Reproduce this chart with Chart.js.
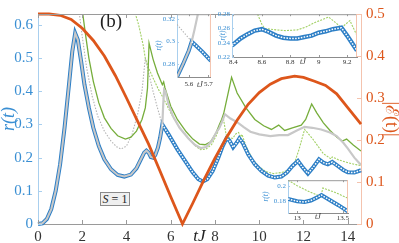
<!DOCTYPE html>
<html>
<head>
<meta charset="utf-8">
<script src="https://cdn.jsdelivr.net/npm/chart.js@4.4.1/dist/chart.umd.min.js"></script>
<style>
  body { margin: 0; background: #fff; }
  #wrap { position: relative; width: 399px; height: 243px; font-family: "Liberation Serif", "DejaVu Serif", serif; color: #222; }
  canvas { position: absolute; }
  .note { position: absolute; white-space: nowrap; line-height: 1; }
  .tj { font-style: italic; font-size: 8px; transform: translate(-50%, -50%); color: #333; }
</style>
</head>
<body>
<div id="wrap">
  <canvas id="main" width="399" height="243" style="left:0;top:0"></canvas>
  <canvas id="in1" width="66" height="88" style="left:150px;top:8px"></canvas>
  <canvas id="in2" width="155" height="70" style="left:205px;top:8px"></canvas>
  <canvas id="in3" width="96" height="56" style="left:255px;top:174px"></canvas>
  <div class="note" style="left:100px;top:11px;font-size:19px">(b)</div>
  <div class="note" style="left:100px;top:192px;width:28px;height:12px;border:1px solid #8a8a8a;background:#efefef;font-size:12px;text-align:center;line-height:12px"><i>S</i> = 1</div>
  <div class="note tj" style="left:200px;top:85px">tJ</div>
  <div class="note tj" style="left:303px;top:62px">tJ</div>
  <div class="note tj" style="left:318px;top:217px">tJ</div>
</div>
<script>
// main axis ticks
const xTicks = [0, 2, 4, 6, 8, 10, 12, 14];
const rTicks = [0, 0.1, 0.2, 0.3, 0.4, 0.5, 0.6];
const eTicks = [0, 0.1, 0.2, 0.3, 0.4, 0.5];

// |E(t)|, right axis
const tE = [0, 0.5, 1, 1.5, 2, 2.5, 3, 3.5, 4, 4.5, 5, 5.5, 6, 6.53, 7, 7.5, 8, 8.5, 9, 9.5, 10, 10.5, 11, 11.6, 12, 12.5, 13, 13.5, 14, 14.6];
const E  = [0.5, 0.5, 0.497, 0.487, 0.466, 0.437, 0.40, 0.353, 0.30, 0.245, 0.19, 0.128, 0.065, 0, 0.05, 0.105, 0.157, 0.204, 0.247, 0.285, 0.313, 0.333, 0.346, 0.352, 0.349, 0.34, 0.33, 0.31, 0.277, 0.238];

// r(t) blue
const tB = [0, 0.2, 0.4, 0.6, 0.8, 1.0, 1.2, 1.4, 1.55, 1.68, 1.8, 1.95, 2.1, 2.3, 2.5, 2.75, 3.0, 3.3, 3.6, 3.9, 4.2, 4.45, 4.65, 4.8, 4.9, 5.0, 5.1, 5.2, 5.3, 5.42, 5.52, 5.62,
            5.9, 6.3, 6.7, 7.0, 7.25, 7.45, 7.65, 7.9, 8.15, 8.35, 8.52, 8.65, 8.82, 8.98, 9.1, 9.25, 9.5, 9.8, 10.1, 10.4, 10.7, 11.0, 11.25, 11.5, 11.75, 11.95, 12.2, 12.45, 12.7, 12.9, 13.1, 13.3, 13.55, 13.8, 14.0, 14.3, 14.6];
const rB = [0, 0.002, 0.015, 0.045, 0.10, 0.18, 0.29, 0.42, 0.52, 0.575, 0.555, 0.49, 0.42, 0.35, 0.29, 0.235, 0.195, 0.165, 0.148, 0.143, 0.149, 0.168, 0.195, 0.215, 0.221, 0.215, 0.202, 0.2, 0.208, 0.23, 0.26, 0.30,
            0.27, 0.225, 0.185, 0.155, 0.135, 0.128, 0.135, 0.16, 0.2, 0.235, 0.258, 0.252, 0.231, 0.245, 0.258, 0.245, 0.21, 0.18, 0.16, 0.146, 0.14, 0.143, 0.155, 0.175, 0.19, 0.172, 0.152, 0.172, 0.195, 0.185, 0.18, 0.187, 0.175, 0.163, 0.156, 0.155, 0.162];
const split = 5.62;

// gray solid branch
const tS = [5.62, 5.66, 5.7, 5.76, 5.9, 6.1, 6.4, 6.8, 7.1, 7.35, 7.6, 7.85, 8.05, 8.2, 8.3, 8.45, 8.7, 9.0, 9.3, 9.6, 10.0, 10.5, 10.9, 11.3, 11.7, 12.05, 12.4, 12.8, 13.2, 13.5, 13.8, 14.0, 14.3, 14.6];
const rS = [0.30, 0.36, 0.405, 0.40, 0.36, 0.325, 0.29, 0.258, 0.238, 0.229, 0.232, 0.25, 0.275, 0.29, 0.305, 0.331, 0.318, 0.307, 0.292, 0.278, 0.27, 0.265, 0.268, 0.268, 0.282, 0.293, 0.29, 0.285, 0.276, 0.265, 0.245, 0.228, 0.2, 0.178];

// green solid
const tG = [2.0, 2.15, 2.3, 2.5, 2.75, 3.0, 3.3, 3.6, 3.95, 4.2, 4.45, 4.7, 4.85, 4.95, 5.02, 5.2, 5.4, 5.62, 5.68, 5.74, 6.0, 6.3, 6.7, 7.0, 7.3, 7.55, 7.8, 8.05, 8.2, 8.3, 8.4, 8.75, 9.0, 9.4, 9.8, 10.2, 10.55, 10.88, 11.15, 11.5, 11.9, 12.1, 12.37, 12.6, 12.9, 13.2, 13.5, 13.75, 13.95, 14.25, 14.6];
const rG = [0.645, 0.57, 0.50, 0.43, 0.365, 0.32, 0.288, 0.266, 0.256, 0.262, 0.28, 0.315, 0.35, 0.41, 0.545, 0.497, 0.455, 0.42, 0.428, 0.41, 0.355, 0.315, 0.278, 0.256, 0.241, 0.239, 0.248, 0.275, 0.3, 0.315, 0.335, 0.442, 0.395, 0.35, 0.315, 0.296, 0.285, 0.298, 0.282, 0.29, 0.298, 0.315, 0.362, 0.335, 0.305, 0.282, 0.262, 0.25, 0.256, 0.238, 0.22];

// green dotted
const tD = [4.35, 4.55, 4.75, 4.85, 5.0, 5.2, 5.45, 5.66, 6.0, 6.4, 6.86, 7.1, 7.35, 7.6, 7.85, 8.05, 8.2, 8.37, 8.5, 8.6, 8.8, 8.95, 9.07, 9.15, 9.22, 9.4, 9.7, 10.0, 10.3, 10.64, 11.0, 11.3, 11.55, 11.8, 12.05, 12.4, 12.9, 13.25, 13.3, 13.6, 13.95, 14.3, 14.6];
const rD = [0.645, 0.60, 0.54, 0.50, 0.47, 0.44, 0.405, 0.38, 0.335, 0.29, 0.255, 0.236, 0.224, 0.226, 0.24, 0.265, 0.29, 0.322, 0.27, 0.262, 0.258, 0.272, 0.276, 0.262, 0.27, 0.235, 0.195, 0.172, 0.158, 0.152, 0.155, 0.162, 0.175, 0.225, 0.285, 0.258, 0.212, 0.196, 0.202, 0.193, 0.186, 0.18, 0.176];

// gray dotted
const tP = [1.85, 2.0, 2.2, 2.45, 2.7, 3.0, 3.3, 3.55, 3.75, 4.0, 4.25, 4.5, 4.7, 4.85, 4.95, 5.2, 5.4, 5.55, 5.62];
const rP = [0.645, 0.565, 0.47, 0.385, 0.325, 0.28, 0.25, 0.233, 0.226, 0.235, 0.27, 0.33, 0.4, 0.50, 0.47, 0.40, 0.35, 0.315, 0.30];

// inset 1
const i1xTicks = [5.6, 5.7];
const i1yTicks = [0.28, 0.3, 0.32];
const i1tB = [5.54, 5.57, 5.6, 5.615, 5.64, 5.67, 5.713];
const i1rB = [0.269, 0.28, 0.292, 0.30, 0.296, 0.291, 0.283];
const i1split = 5.615;
const i1tS = [5.615, 5.63, 5.65];
const i1rS = [0.30, 0.311, 0.327];
const i1tP = [5.54, 5.615];
const i1rP = [0.315, 0.30];

// inset 2
const i2xTicks = [8.4, 8.6, 8.8, 9, 9.2];
const i2yTicks = [0.22, 0.24, 0.26, 0.28];
const i2tB = [8.39, 8.45, 8.5, 8.55, 8.6, 8.65, 8.7, 8.75, 8.8, 8.85, 8.9, 8.95, 9.0, 9.05, 9.1, 9.16, 9.2, 9.27];
const i2rB = [0.236, 0.246, 0.252, 0.257, 0.259, 0.255, 0.25, 0.247, 0.246, 0.246, 0.248, 0.25, 0.254, 0.256, 0.259, 0.261, 0.25, 0.229];
const i2tD = [8.57, 8.6, 8.62, 8.7, 8.77, 8.85, 8.91, 8.97, 9.07, 9.12, 9.16, 9.22, 9.27];
const i2rD = [0.28, 0.266, 0.26, 0.258, 0.257, 0.258, 0.262, 0.268, 0.276, 0.268, 0.261, 0.271, 0.25];

// inset 3
const i3xTicks = [13, 13.5];
const i3yTicks = [0.18, 0.2];
const i3tB = [12.9, 13.0, 13.08, 13.15, 13.22, 13.265, 13.35, 13.45, 13.555];
const i3rB = [0.183, 0.180, 0.179, 0.181, 0.185, 0.188, 0.182, 0.175, 0.167];
const i3tD = [12.9, 13.0, 13.1, 13.2, 13.26, 13.28, 13.4, 13.555];
const i3rD = [0.207, 0.2, 0.194, 0.189, 0.186, 0.197, 0.192, 0.184];

const FONT = "'Liberation Serif', 'DejaVu Serif', serif";
const BLUE = '#2d7fc6', BLUE_T = '#3a8fd3', ORANGE = '#dd561b', GREEN = '#76ad3b', LGREEN = '#a2d065',
      GRAY = '#c8c8c8', DGRAY = '#b4b4b4';
Chart.defaults.font.family = FONT;

const pts = (t, v) => t.map((x, i) => ({ x: x, y: v[i] }));
const line = (data, color, width, extra) => Object.assign({
    data: data, borderColor: color, borderWidth: width, pointRadius: 0, tension: 0, fill: false
}, extra || {});

// blue drawn as a thick line; gray core before the split, white dashes (markers look) after it
function blueSets(t, r, s, w) {
    const all = pts(t, r);
    return [
        line(all.filter(p => p.x >= s), '#ffffff', 1.5, { borderDash: [1.6, 1.3], order: 1 }),
        line(all.filter(p => p.x <= s), GRAY, 2, { order: 2 }),
        line(all, BLUE, w, { order: 4 }),
    ];
}

const frame = {
    id: 'frame',
    beforeDraw(chart) {
        const { ctx, chartArea: a } = chart;
        ctx.save();
        ctx.fillStyle = '#fff';
        ctx.fillRect(a.left, a.top, a.right - a.left, a.bottom - a.top);
        ctx.restore();
    },
    afterDraw(chart) {
        const { ctx, chartArea: a, scales } = chart;
        const tick = chart.options.plugins.frame.tick;
        ctx.save();
        ctx.lineWidth = 1;
        ctx.strokeStyle = '#9a9a9a';
        ctx.beginPath();
        ctx.moveTo(a.left, a.top + 0.5); ctx.lineTo(a.right, a.top + 0.5);
        scales.x.ticks.forEach(t => {
            const x = Math.round(scales.x.getPixelForValue(t.value)) + 0.5;
            ctx.moveTo(x, a.bottom); ctx.lineTo(x, a.bottom - tick);
            ctx.moveTo(x, a.top); ctx.lineTo(x, a.top + tick);
        });
        ctx.stroke();
        ctx.strokeStyle = '#a9cfee';
        ctx.beginPath();
        scales.y.ticks.forEach(t => {
            const y = Math.round(scales.y.getPixelForValue(t.value)) + 0.5;
            ctx.moveTo(a.left, y); ctx.lineTo(a.left + tick, y);
        });
        ctx.stroke();
        ctx.strokeStyle = '#f4c3ae';
        ctx.beginPath();
        const r = scales.y2 || scales.y;
        if (scales.y2) {
            scales.y2.ticks.forEach(t => {
                const y = Math.round(scales.y2.getPixelForValue(t.value)) + 0.5;
                ctx.moveTo(a.right, y); ctx.lineTo(a.right - tick, y);
            });
        } else {
            ctx.moveTo(a.right - 0.5, a.top); ctx.lineTo(a.right - 0.5, a.bottom);
        }
        ctx.stroke();
        ctx.restore();
    }
};

const setTicks = list => s => { s.ticks = list.map(v => ({ value: v })); };

new Chart(document.getElementById('main'), {
    type: 'line',
    data: {
        datasets: [
            line(pts(tE, E), ORANGE, 2.8, { yAxisID: 'y2', order: 0, clip: 4 }),
            ...blueSets(tB, rB, split, 4).map(d => Object.assign(d, { clip: 4 })),
            line(pts(tS, rS), GRAY, 2.2, { order: 3 }),
            line(pts(tG, rG), GREEN, 1.3, { order: 5 }),
            line(pts(tD, rD), LGREEN, 1.1, { order: 6, borderDash: [2, 1.2] }),
            line(pts(tP, rP), DGRAY, 1.1, { order: 7, borderDash: [1.5, 1.5] }),
        ]
    },
    options: {
        responsive: false, animation: false, devicePixelRatio: 1,
        layout: { padding: { top: 6, left: 0, right: 0, bottom: 0 } },
        plugins: { legend: { display: false }, tooltip: { enabled: false }, frame: { tick: 4 } },
        scales: {
            x: {
                type: 'linear', min: 0, max: 14.6,
                afterBuildTicks: setTicks(xTicks),
                afterFit: s => { s.height = 19; },
                grid: { display: false, drawTicks: false },
                border: { color: '#9a9a9a' },
                ticks: { color: '#333', font: { size: 15 }, padding: 4, autoSkip: false, maxRotation: 0, callback: v => String(v) },
                title: { display: true, text: 'tJ', color: '#222', font: { size: 17, style: 'italic', lineHeight: 1 }, padding: { top: 0, bottom: -2 } }
            },
            y: {
                position: 'left', min: 0, max: 0.633,
                afterBuildTicks: setTicks(rTicks),
                afterFit: s => { s.width = 38; },
                grid: { display: false, drawTicks: false },
                border: { color: '#a9cfee' },
                ticks: { color: BLUE_T, font: { size: 15 }, padding: 5, autoSkip: false, callback: v => String(v) },
                title: { display: true, text: 'r(t)', color: BLUE_T, font: { size: 18, style: 'italic', lineHeight: 1 }, padding: { top: 0, bottom: 0 } }
            },
            y2: {
                position: 'right', min: 0, max: 0.5,
                afterBuildTicks: setTicks(eTicks),
                afterFit: s => { s.width = 38; },
                grid: { display: false, drawTicks: false },
                border: { color: '#f4c3ae' },
                ticks: { color: ORANGE, font: { size: 15 }, padding: 5, autoSkip: false, callback: v => String(v) },
                title: { display: true, text: '|ℰ(t)|', color: ORANGE, font: { size: 18, lineHeight: 1 }, padding: { top: -1, bottom: 0 } }
            }
        }
    },
    plugins: [frame]
});

function inset(id, o) {
    new Chart(document.getElementById(id), {
        type: 'line',
        data: { datasets: o.datasets },
        options: {
            responsive: false, animation: false, devicePixelRatio: 1,
            layout: { padding: { top: 4, right: 3, left: 0, bottom: 0 } },
            plugins: { legend: { display: false }, tooltip: { enabled: false }, frame: { tick: 2 } },
            scales: {
                x: {
                    type: 'linear', min: o.xMin, max: o.xMax,
                    afterBuildTicks: setTicks(o.xTicks),
                    afterFit: s => { s.height = o.xH; },
                    grid: { display: false, drawTicks: false },
                    border: { color: '#8c8c8c' },
                    ticks: { color: '#333', font: { size: 7 }, padding: o.xPad, autoSkip: false, maxRotation: 0, callback: v => String(v) }
                },
                y: {
                    min: o.yMin, max: o.yMax,
                    afterBuildTicks: setTicks(o.yTicks),
                    afterFit: s => { s.width = o.yW; },
                    grid: { display: false, drawTicks: false },
                    border: { color: '#a9cfee' },
                    ticks: { color: BLUE_T, font: { size: 7 }, padding: 2, autoSkip: false, callback: v => String(v) },
                    title: { display: true, text: 'r(t)', color: BLUE_T, font: { size: 7.5, style: 'italic', lineHeight: 1 }, padding: { top: o.tPad, bottom: 0 } }
                }
            }
        },
        plugins: [frame]
    });
}

inset('in1', {
    xMin: 5.54, xMax: 5.713, yMin: 0.269, yMax: 0.324, xTicks: i1xTicks, yTicks: i1yTicks,
    xH: 19, yW: 27, xPad: 3, tPad: 5,
    datasets: [
        ...blueSets(i1tB, i1rB, i1split, 4),
        line(pts(i1tS, i1rS), GRAY, 2.2, { order: 3 }),
        line(pts(i1tP, i1rP), DGRAY, 1.1, { order: 7, borderDash: [1.5, 1.5] }),
    ]
});

inset('in2', {
    xMin: 8.39, xMax: 9.27, yMin: 0.22, yMax: 0.28, xTicks: i2xTicks, yTicks: i2yTicks,
    xH: 21, yW: 27, xPad: 1, tPad: 14,
    datasets: [
        ...blueSets(i2tB, i2rB, 0, 4.5),
        line(pts(i2tD, i2rD), LGREEN, 1.1, { order: 6, borderDash: [2, 1.2] }),
    ]
});

inset('in3', {
    xMin: 12.9, xMax: 13.555, yMin: 0.165, yMax: 0.207, xTicks: i3xTicks, yTicks: i3yTicks,
    xH: 17, yW: 33, xPad: 1, tPad: 7,
    datasets: [
        ...blueSets(i3tB, i3rB, 0, 4),
        line(pts(i3tD, i3rD), LGREEN, 1.1, { order: 6, borderDash: [2, 1.2] }),
    ]
});
</script>
</body>
</html>
